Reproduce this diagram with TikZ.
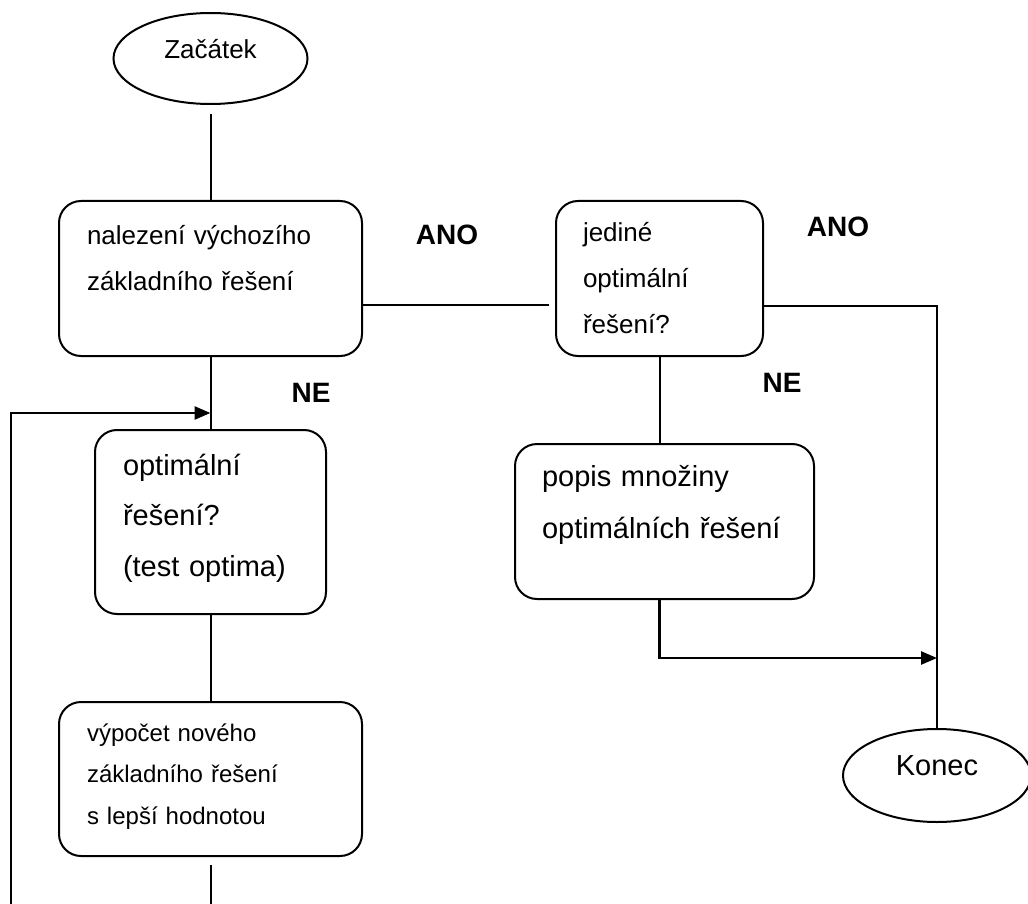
\documentclass[tikz,border=0pt]{standalone}
\usepackage{fontspec}
\setmainfont{Liberation Sans}
\usetikzlibrary{arrows.meta,positioning,shapes.geometric}

\begin{document}
\begin{tikzpicture}[
  x=1pt,y=-1pt,line width=2pt,
  box/.style={rectangle,draw,rounded corners=22pt,inner sep=0pt},
  oval/.style={ellipse,draw,inner sep=0pt,text height=18pt,text depth=18pt},
  txt/.style={anchor=base west,inner sep=0pt,align=left,text width=#1},
  lbl/.style={font=\fontsize{28}{30}\selectfont\bfseries,inner sep=0pt},
  arr/.style={-{Triangle[length=16pt,width=13pt]},line width=2.6pt}
]
\useasboundingbox (0,0) rectangle (1028,904);
% start / end
\node[oval,minimum width=194pt,minimum height=91pt,font=\fontsize{26}{30}\selectfont] (zacatek) at (210.5,58.5) {Začátek};
\node[oval,minimum width=188pt,minimum height=93pt,font=\fontsize{29}{32}\selectfont] (konec) at (937,775.5) {Konec};
% boxes
\node[box,minimum width=303pt,minimum height=155pt] (nalez) at (210.5,278.5) {};
\node[box,minimum width=207pt,minimum height=155pt,right=192pt of nalez] (jedine) {};
\node[box,minimum width=231pt,minimum height=184pt,below=72pt of nalez] (opt) {};
\node[box,minimum width=303pt,minimum height=154pt,below=86pt of opt] (vypocet) {};
\node[box,minimum width=299pt,minimum height=155pt,below=86pt of jedine,xshift=5pt] (popis) {};
% texts in boxes
\node[txt=270pt,font=\fontsize{26}{46}\selectfont] (nalez-t) at ([xshift=28pt,yshift=-44pt]nalez.north west) {nalezení výchozího\\základního řešení};
\node[txt=175pt,font=\fontsize{26}{46}\selectfont] (jedine-t) at ([xshift=27pt,yshift=-42pt]jedine.north west) {jediné\\optimální\\řešení?};
\node[txt=200pt,font=\fontsize{29}{50.5}\selectfont] (opt-t) at ([xshift=28pt,yshift=-46pt]opt.north west) {optimální\\řešení?\\(test optima)};
\node[txt=270pt,font=\fontsize{29}{52}\selectfont] (popis-t) at ([xshift=27pt,yshift=-43pt]popis.north west) {popis množiny\\optimálních řešení};
\node[txt=270pt,font=\fontsize{24}{41.5}\selectfont] (vypocet-t) at ([xshift=28pt,yshift=-40pt]vypocet.north west) {výpočet nového\\základního řešení\\s lepší hodnotou};
% labels
\node[lbl] (ano1) at (447,235) {ANO};
\node[lbl] (ano2) at (838,227) {ANO};
\node[lbl] (ne1) at (311,393) {NE};
\node[lbl] (ne2) at (782,383) {NE};
% helper points
\path (opt.north) ++(0,-16) coordinate (loopin);
\path (konec.north) ++(0,-70) coordinate (merge);
\path (vypocet.south) ++(0,52) coordinate (bm);
\coordinate (bl) at (11,904);
% connectors
\draw[shorten <=9pt] (zacatek) -- (nalez);
\draw (nalez) -- (opt);
\draw (opt) -- (vypocet);
\draw[shorten <=8pt] (vypocet) -- (bm);
\draw[arr] (bl) |- (loopin);
\draw[shorten >=6pt] ([yshift=-26pt]nalez.east) -- ([yshift=-26pt]jedine.west);
\draw ([yshift=-27pt]jedine.east) -| (konec);
\draw (jedine.south) -- (jedine.south |- popis.north);
\draw[arr] (popis.south -| jedine.south) |- (merge);
\end{tikzpicture}
\end{document}
